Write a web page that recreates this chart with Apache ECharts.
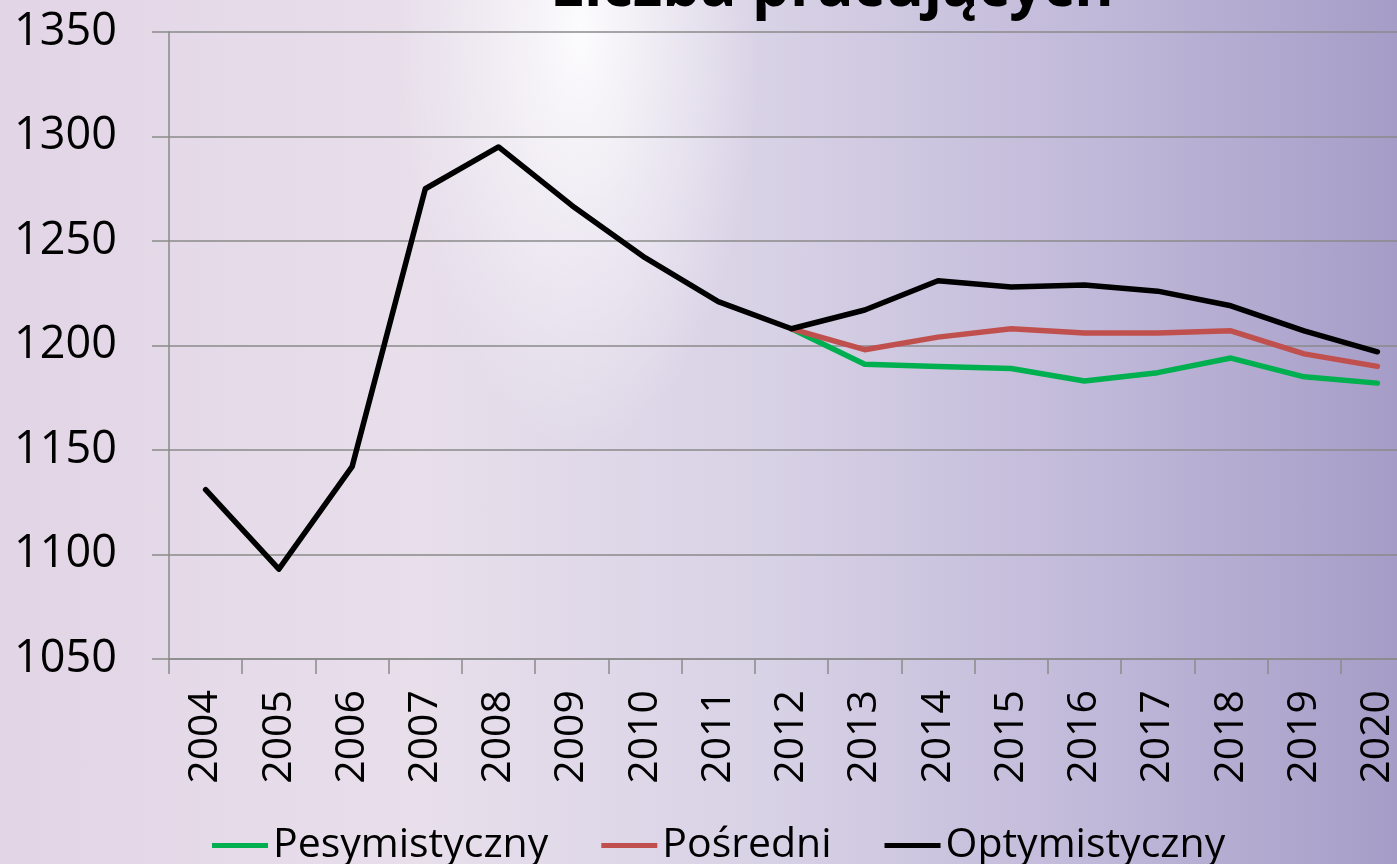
<!DOCTYPE html>
<html>
<head>
  <meta charset="utf-8">
  <title>Liczba pracujących</title>
  <script src="https://cdn.jsdelivr.net/npm/echarts@6/dist/echarts.min.js"></script>
  <style>
    html, body { margin: 0; padding: 0; }
    body {
      width: 1397px; height: 864px; overflow: hidden;
      background:
        radial-gradient(ellipse 240px 560px at 580px 30px, rgba(255,255,255,0.9), rgba(255,255,255,0) 75%),
        linear-gradient(to right, #e2d5e6 0%, #e8dfeb 30%, #d8d2e6 55%, #bfb7d8 80%, #a59dc7 100%);
    }
    /* wykres szerszy niż okno: ostatnia kategoria jest ucięta jak w oryginale */
    #chart { width: 1420px; height: 864px; }
  </style>
</head>
<body>
  <div id="chart"></div>
  <script>
    // lata i serie
    var years = ['2004', '2005', '2006', '2007', '2008', '2009', '2010', '2011', '2012',
                 '2013', '2014', '2015', '2016', '2017', '2018', '2019', '2020'];
    var pesymistyczny = [null, null, null, null, null, null, null, null, 1208,
                         1191, 1190, 1189, 1183, 1187, 1194, 1185, 1182];
    var posredni = [null, null, null, null, null, null, null, null, 1208,
                    1198, 1204, 1208, 1206, 1206, 1207, 1196, 1190];
    var optymistyczny = [1131, 1093, 1142, 1275, 1295, 1267, 1242, 1221, 1208,
                         1217, 1231, 1228, 1229, 1226, 1219, 1207, 1197];
    var yMin = 1050, yMax = 1350, yStep = 50;

    var font = "'Open Sans', 'Noto Sans', sans-serif";
    var chart = echarts.init(document.getElementById('chart'));

    function lineSeries(name, data, color) {
      return {
        name: name,
        type: 'line',
        data: data,
        symbol: 'none',
        connectNulls: false,
        lineStyle: { color: color, width: 5.5, cap: 'round', join: 'round' },
        itemStyle: { color: color },
        animation: false
      };
    }

    var option = {
      backgroundColor: 'transparent',
      textStyle: { fontFamily: font },
      title: {
        text: 'Liczba pracujących',
        left: 550,
        top: -41,
        padding: 0,
        textStyle: { fontFamily: font, fontSize: 60, fontWeight: 'bold', color: '#000' }
      },
      grid: { left: 169, right: 6, top: 32, bottom: 205 },
      legend: {
        left: 212,
        top: 825,
        padding: 0,
        icon: 'rect',
        itemWidth: 56,
        itemHeight: 5,
        itemGap: 53,
        textStyle: { fontFamily: font, fontSize: 41, color: '#000' },
        data: ['Pesymistyczny', 'Pośredni', 'Optymistyczny']
      },
      xAxis: {
        type: 'category',
        data: years,
        boundaryGap: true,
        axisLine: { lineStyle: { color: '#8a8a8a', width: 1.5 } },
        axisTick: { show: true, length: 15, alignWithLabel: false, lineStyle: { color: '#8a8a8a', width: 1.5 } },
        axisLabel: { rotate: 90, margin: 31, fontSize: 41, color: '#000', fontFamily: font, interval: 0 }
      },
      yAxis: {
        type: 'value',
        min: yMin,
        max: yMax,
        interval: yStep,
        axisLine: { show: true, lineStyle: { color: '#8a8a8a', width: 1.5 } },
        axisTick: { show: true, length: 17, lineStyle: { color: '#8a8a8a', width: 1.5 } },
        splitLine: { lineStyle: { color: '#8a8a8a', width: 1.5 } },
        axisLabel: {
          margin: 52, fontSize: 45, color: '#000', fontFamily: font,
          formatter: function (v) { return String(v); }
        }
      },
      series: [
        lineSeries('Pesymistyczny', pesymistyczny, '#00b050'),
        lineSeries('Pośredni', posredni, '#c0504d'),
        lineSeries('Optymistyczny', optymistyczny, '#000000')
      ]
    };

    chart.setOption(option);
  </script>
</body>
</html>
